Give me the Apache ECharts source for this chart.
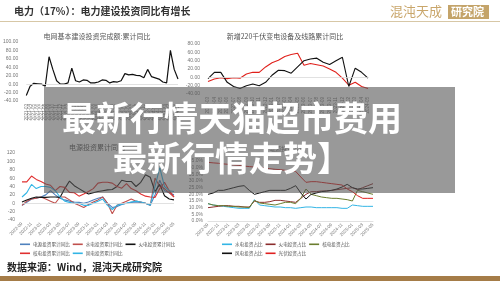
<!DOCTYPE html>
<html><head><meta charset="utf-8">
<script src="https://cdn.jsdelivr.net/npm/echarts@6/dist/echarts.min.js"></script>
<style>html,body{margin:0;padding:0;background:#fff}#c{width:500px;height:281px}</style>
</head><body><div id="c"></div><script>
// ---- data ----
const cat1 = ['2021-03','2021-04','2021-05','2021-06','2021-07','2021-08','2021-09','2021-10','2021-11','2021-12','2022-01','2022-02','2022-03','2022-04','2022-05','2022-06','2022-07','2022-08','2022-09','2022-10','2022-11','2022-12','2023-01','2023-02','2023-03','2023-04','2023-05','2023-06','2023-07','2023-08','2023-09','2023-10','2023-11','2023-12','2024-01','2024-02','2024-03','2024-04','2024-05','2024-06','2024-07'];
const gridInvest = [-27,-5,2,1,0,-5,65,35,8,0,0,3,38,8,5,10,9,3,3,5,10,9,3,6,5,8,25,22,23,21,20,15,35,18,15,12,5,3,80,35,12];

const cat2 = ['2022-03','2022-04','2022-05','2022-06','2022-07','2022-08','2022-09','2022-10','2022-11','2022-12','2023-01','2023-02','2023-03','2023-04','2023-05','2023-06','2023-07','2023-08','2023-09','2023-10','2023-11','2023-12','2024-02','2024-03','2024-04','2024-05'];
const sub220Red = [-10,-4,-1,-3,-1,-2,8,12,12,25,35,41,50,55,58,29,33,30,27,20,12,-2,-19,-12,-22,-27];
const sub220Black = [-3,12,12,-12,-22,-27,-20,-16,-20,-12,5,17,16,10,25,40,44,46,36,31,40,48,-22,22,12,-2];

const cat3 = ['2022-09','2022-10','2022-11','2022-12','2023-01','2023-02','2023-03','2023-04','2023-05','2023-06','2023-07','2023-08','2023-09','2023-10','2023-11','2023-12','2024-01','2024-02','2024-03','2024-04','2024-05','2024-06','2024-07','2024-08','2024-09','2024-10','2024-11','2024-12','2025-01','2025-02','2025-03','2025-04','2025-05'];
const powerSrc = [-5,2,10,12,15,20,30,20,12,8,5,3,2,0,3,8,12,15,0,-10,-8,-3,0,2,3,2,0,-5,20,55,30,25,20];
const hydro = [-5,5,10,12,15,10,5,0,15,15,8,0,-5,-10,-3,3,8,15,0,-25,-5,0,5,10,5,3,0,-5,60,40,35,25,15];
const thermal = [3,8,12,15,14,14,15,15,14,35,53,42,35,28,22,25,28,30,32,33,40,55,52,52,40,50,68,62,28,45,18,10,8];
const nuclear = [51,51,65,57,52,46,43,30,40,38,26,25,17,22,28,35,48,50,50,48,40,36,47,35,30,22,17,15,14,35,50,30,15];
const wind = [15,25,45,35,40,40,38,30,15,5,2,0,0,-5,-5,0,5,10,-5,-15,-5,-2,0,3,5,3,0,-5,40,85,40,30,28];

const cat4 = cat3;
const shHydro = [13,12,11.5,11,10.5,10,9.5,9.5,9.5,16,12,11.5,11,10.5,10.5,10,10,9.5,10,10.5,10.5,10,10,10,10,10,9.5,9.5,12,11.5,11,11,11];
const shThermal = [10,10.5,11,11.5,11.5,11,11,10.5,10.5,15,14,14,14.5,15.5,15.5,15,14.5,14,17,20,22,22,22.5,22.5,23,23.5,24,24.5,25,23.5,25,26.5,28];
const shNuclear = [13,12,11.5,11.5,11,11,10.5,10.5,10,15.5,13.5,13,12.5,12,13,14,14,13,17,24,20,19,18,17.5,17,17,16.5,16,15,23,22,21,20];
const shWind = [20,21,23,23,24,25,26,26.5,23,20,21,22,23,23,23,23,24.5,26.5,21,16.5,20,21,22,22.5,23,24,25.5,27.5,25,24,24,24.5,25];
const shSolar = [44,43.6,43.3,42.8,42.5,42,41.7,41.2,40.8,40.5,40,39.7,39.2,38.8,38.5,38,37.6,37.2,33,29,29.5,29.5,29,28.5,28,27.5,27,24,22,19,17,17,17];

const yTicks1 = {min:-40,max:100,interval:20};
const yTicks2 = {min:-40,max:80,interval:20};
const yTicks3 = {min:-40,max:120,interval:20};
const yTicks4 = {min:0,max:45,interval:5};

// ---- chart ----
const FF = '"Noto Sans CJK SC", sans-serif';
const chart = echarts.init(document.getElementById('c'), null, {renderer:'canvas'});
const axisTxt = {color:'#777', fontSize:5, fontFamily:'Liberation Sans'};
function yAx(gi, t, fmt, margin){
  return {gridIndex:gi, type:'value', min:t.min, max:t.max, interval:t.interval,
    axisLine:{show:false}, axisTick:{show:false}, splitLine:{show:false},
    axisLabel:Object.assign({formatter:fmt, margin:margin}, axisTxt)};
}
function xAx(gi, data, rot, interval, showLine){
  return {gridIndex:gi, type:'category', data:data, boundaryGap:false,
    axisLine:{show:showLine, onZero:false, lineStyle:{color:'#d9d9d9', width:0.8}}, axisTick:{show:false},
    axisLabel:Object.assign({rotate:rot, interval:interval, margin:3}, axisTxt, {fontSize:4.5})};
}
function ln(name, xi, data, color, w){
  return {name:name, type:'line', xAxisIndex:xi, yAxisIndex:xi, data:data, symbol:'none',
    lineStyle:{color:color, width:w||1.1}, itemStyle:{color:color}, z:3};
}
function zeroLine(s){
  s.markLine = {silent:true, symbol:'none', label:{show:false},
    lineStyle:{color:'#d9d9d9', width:0.8, type:'solid'}, data:[{yAxis:0}]};
  return s;
}
const f2 = v => v.toFixed(2);
const fInt = v => String(v);
const fPct = v => v.toFixed(1)+'%';

const lgBase = {icon:'rect', itemWidth:10, itemHeight:1.6, itemGap:3,
  textStyle:{fontSize:4.6, color:'#555', fontFamily:FF, padding:[0,0,0,-2]}, padding:0};

const option = {
  animation:false,
  backgroundColor:'#fff',
  grid:[
    {left:26, top:42, width:152, height:59},
    {left:208, top:44, width:160, height:50},
    {left:22, top:153, width:152, height:67},
    {left:208, top:161, width:165, height:60}
  ],
  title:[
    {text:'电网基本建设投资完成额:累计同比', left:92, top:28, textAlign:'center', textStyle:{fontSize:7, fontWeight:'normal', color:'#555', fontFamily:FF}},
    {text:'新增220千伏变电设备及线路累计同比', left:280, top:28, textAlign:'center', textStyle:{fontSize:7, fontWeight:'normal', color:'#555', fontFamily:FF}},
    {text:'电源投资累计同比', left:92, top:139, textAlign:'center', textStyle:{fontSize:7, fontWeight:'normal', color:'#555', fontFamily:FF}},
    {text:'电源投资占比', left:282, top:141, textAlign:'center', textStyle:{fontSize:6, fontWeight:'normal', color:'#777', fontFamily:FF}}
  ],
  legend:[
    Object.assign({left:20, top:242, data:['电源投资累计同比','水电投资累计同比','火电投资累计同比']}, lgBase),
    Object.assign({left:20, top:251, data:['核电投资累计同比','风电投资累计同比']}, lgBase),
    Object.assign({left:222, top:242, data:['水电投资占比','火电投资占比','核电投资占比']}, lgBase),
    Object.assign({left:222, top:251, data:['风电投资占比','光伏投资占比']}, lgBase)
  ],
  xAxis:[
    xAx(0, cat1, 90, 0, false),
    xAx(1, cat2, 90, 0, false),
    xAx(2, cat3, 45, 1, false),
    xAx(3, cat4, 45, 1, true)
  ],
  yAxis:[
    yAx(0, yTicks1, f2, 8),
    yAx(1, yTicks2, f2, 8),
    yAx(2, yTicks3, fInt, 7),
    yAx(3, yTicks4, fPct, 5)
  ],
  series:[
    zeroLine(ln('电网基本建设投资完成额:累计同比', 0, gridInvest, '#111', 1.2)),
    zeroLine(ln('新增220千伏变电设备', 1, sub220Red, '#e0201b', 1.1)),
    ln('新增220千伏线路', 1, sub220Black, '#111', 1.1),
    zeroLine(ln('电源投资累计同比', 2, powerSrc, '#4f81bd')),
    ln('水电投资累计同比', 2, hydro, '#c0504d'),
    ln('火电投资累计同比', 2, thermal, '#111'),
    ln('核电投资累计同比', 2, nuclear, '#e03030'),
    ln('风电投资累计同比', 2, wind, '#33b5e5'),
    ln('水电投资占比', 3, shHydro, '#33b5e5', 1),
    ln('火电投资占比', 3, shThermal, '#8b2c2c', 1),
    ln('核电投资占比', 3, shNuclear, '#6b7d2e', 1),
    ln('风电投资占比', 3, shWind, '#111', 1),
    ln('光伏投资占比', 3, shSolar, '#e02020', 1)
  ],
  graphic:[
    {type:'text', left:14, top:6, style:{text:'电力（17%）：电力建设投资同比有增长', font:'bold 10px "Noto Sans CJK SC"', fill:'#333'}},
    {type:'text', left:390, top:5, style:{text:'混沌天成', font:'13px "Noto Sans CJK SC"', fill:'#c9a66b'}},
    {type:'rect', left:448, top:5, shape:{width:41, height:14}, style:{fill:'#c4a46a'}},
    {type:'text', left:451, top:6, style:{text:'研究院', font:'bold 11px "Noto Sans CJK SC"', fill:'#fff'}},
    {type:'rect', left:0, top:21, shape:{width:500, height:1}, style:{fill:'#d7c7a6'}},
    {type:'text', left:7, top:262, style:{text:'数据来源：Wind，混沌天成研究院', font:'bold 10px "Noto Sans CJK SC"', fill:'#222'}},
    {type:'rect', left:0, top:276, shape:{width:500, height:5}, style:{fill:'#a57c48'}},
    {type:'rect', left:44, top:87, z:100, shape:{width:411, height:106}, style:{fill:'rgba(85,85,85,0.6)'}},
    {type:'text', left:62, top:101, z:101, style:{text:'最新行情天猫超市费用', font:'bold 34px "Noto Sans CJK SC"', fill:'#fff', shadowBlur:3, shadowColor:'rgba(0,0,0,0.5)'}},
    {type:'text', left:113, top:141, z:101, style:{text:'最新行情走势】', font:'bold 34px "Noto Sans CJK SC"', fill:'#fff', shadowBlur:3, shadowColor:'rgba(0,0,0,0.5)'}}
  ]
};
chart.setOption(option);
</script></body></html>
